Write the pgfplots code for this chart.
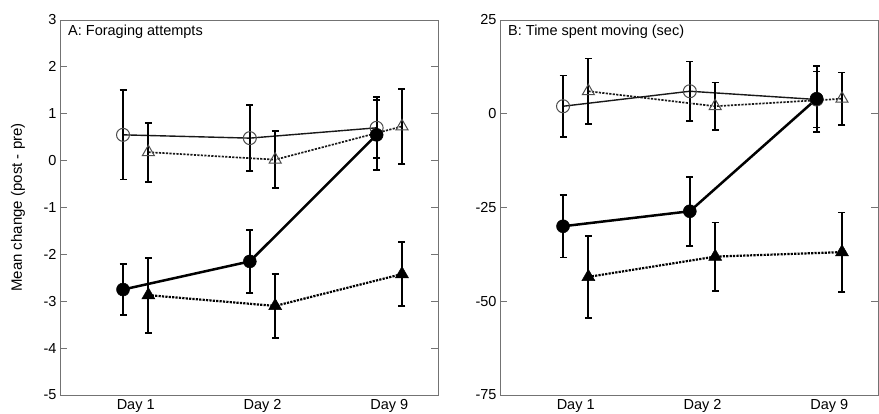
\documentclass[border=0pt]{standalone}
\usepackage{fontspec}
\setmainfont{Liberation Sans}
\usepackage{pgfplots}
\usepackage{pgfplotstable}
\pgfplotsset{compat=1.18}

\pgfplotstableread{
x y e
0.9 0.55 0.95
1.9 0.48 0.70
2.9 0.70 0.65
}\AopenC
\pgfplotstableread{
x y e
1.1 0.18 0.63
2.1 0.02 0.61
3.1 0.73 0.80
}\AopenT
\pgfplotstableread{
x y e
0.9 -2.75 0.55
1.9 -2.15 0.67
2.9 0.55 0.75
}\AfillC
\pgfplotstableread{
x y e
1.1 -2.87 0.80
2.1 -3.10 0.68
3.1 -2.42 0.68
}\AfillT

\pgfplotstableread{
x y e
0.9 2.0 8.2
1.9 6.0 7.9
2.9 3.8 7.5
}\BopenC
\pgfplotstableread{
x y e
1.1 6.0 8.7
2.1 2.0 6.3
3.1 4.0 7.0
}\BopenT
\pgfplotstableread{
x y e
0.9 -30.0 8.3
1.9 -26.0 9.2
2.9 4.0 8.8
}\BfillC
\pgfplotstableread{
x y e
1.1 -43.5 10.9
2.1 -38.1 9.1
3.1 -36.9 10.6
}\BfillT

\pgfplotsset{
  panel/.style={
    scale only axis, width=378pt, height=375pt,
    xmin=0.403, xmax=3.384,
    xtick={1,2,3}, xticklabels={Day 1,Day 2,Day 9},
    major x tick style={draw=none},
    tick align=inside,
    major tick length=7pt,
    ytick pos=both,
    axis line style={black!55, line width=0.9pt},
    y tick style={black!55, line width=0.9pt},
    every tick label/.append style={font=\fontsize{14.5}{17}\selectfont},
    xticklabel style={inner sep=0pt, yshift=-4pt},
    clip=false,
  },
  ebar/.style={
    error bars/.cd, y dir=both, y explicit,
    error bar style={line width=2pt, black, solid},
    error mark options={rotate=90, mark size=3.5pt, line width=1.7pt, black, solid},
  },
  openC/.style={black!90, line width=1.4pt, mark=o, mark size=6.5pt,
    mark options={solid, draw=black!70, line width=1pt}},
  openT/.style={black!90, line width=1.7pt, dash pattern=on 2.2pt off 1.3pt, mark=triangle, mark size=7pt,
    mark options={solid, draw=black!70, line width=1pt}},
  fillC/.style={black, line width=2.5pt, mark=*, mark size=6.5pt,
    mark options={solid, fill=black, line width=0.5pt}},
  fillT/.style={black, line width=2.2pt, dash pattern=on 2.2pt off 1.2pt, mark=triangle*, mark size=7.5pt,
    mark options={solid, fill=black, line width=0.5pt}},
}

\begin{document}
\begin{tikzpicture}
\useasboundingbox (0,0) rectangle (879pt,413pt);

\begin{axis}[panel, at={(60pt,18pt)}, anchor=south west,
  ymin=-5, ymax=3, ytick={-5,-4,-3,-2,-1,0,1,2,3},
  yticklabels={-5,-4,-3,-2,-1,0,1,2,3},
  ylabel={Mean change (post - pre)},
  ylabel style={at={(axis description cs:-0.111,0.5)}, anchor=center, font=\fontsize{15}{18}\selectfont},
]
\addplot[openC, ebar] table[x=x, y=y, y error=e] {\AopenC};
\addplot[openT, ebar] table[x=x, y=y, y error=e] {\AopenT};
\addplot[fillT, ebar] table[x=x, y=y, y error=e] {\AfillT};
\addplot[fillC, ebar] table[x=x, y=y, y error=e] {\AfillC};
\node[anchor=north west, inner sep=0pt, font=\fontsize{14.5}{17}\selectfont] at (rel axis cs:0,1) [xshift=8pt, yshift=-5pt] {A: Foraging attempts};
\end{axis}

\begin{axis}[panel, at={(500pt,18pt)}, anchor=south west,
  ymin=-75, ymax=25, ytick={-75,-50,-25,0,25},
  yticklabels={-75,-50,-25,0,25},
]
\addplot[openC, ebar] table[x=x, y=y, y error=e] {\BopenC};
\addplot[openT, ebar] table[x=x, y=y, y error=e] {\BopenT};
\addplot[fillT, ebar] table[x=x, y=y, y error=e] {\BfillT};
\addplot[fillC, ebar] table[x=x, y=y, y error=e] {\BfillC};
\node[anchor=north west, inner sep=0pt, font=\fontsize{14.5}{17}\selectfont] at (rel axis cs:0,1) [xshift=8pt, yshift=-5pt] {B: Time spent moving (sec)};
\end{axis}
\end{tikzpicture}
\end{document}
